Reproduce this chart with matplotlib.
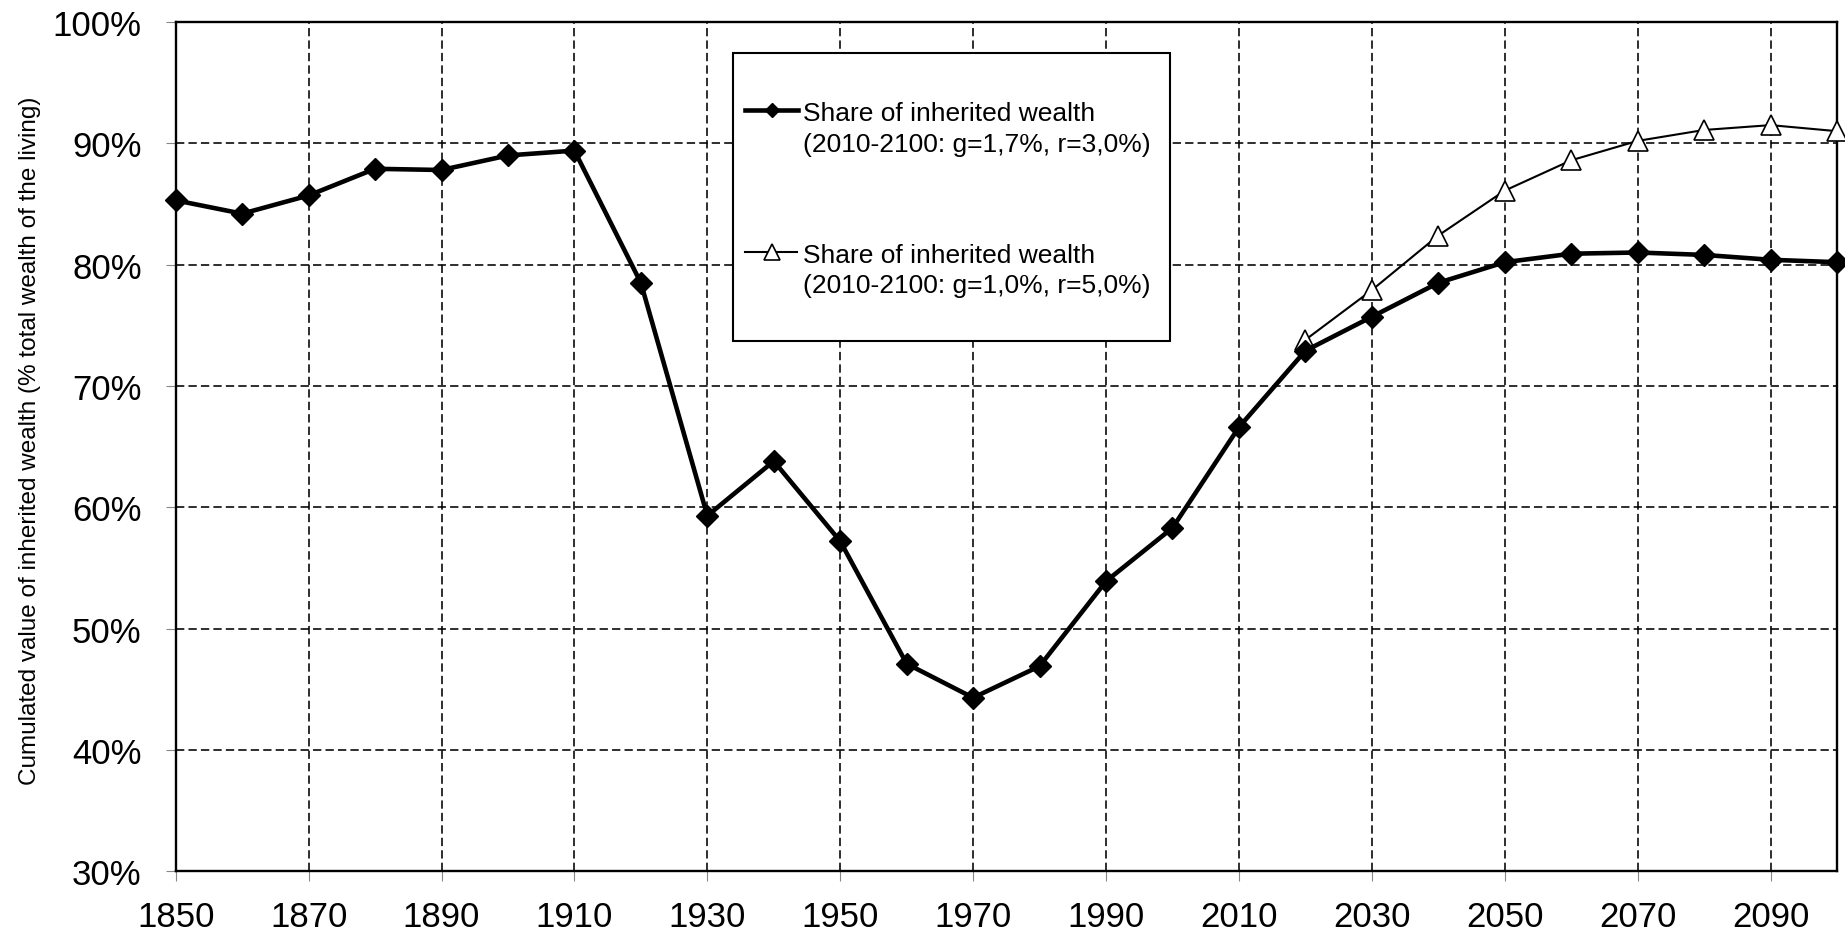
import matplotlib
matplotlib.use("Agg")
import matplotlib.pyplot as plt
from matplotlib.lines import Line2D
from matplotlib.patches import Rectangle
from matplotlib.ticker import FuncFormatter

# ---------------- data ----------------
years = [1850, 1860, 1870, 1880, 1890, 1900, 1910, 1920, 1930, 1940, 1950,
         1960, 1970, 1980, 1990, 2000, 2010, 2020, 2030, 2040, 2050, 2060,
         2070, 2080, 2090, 2100]
share_base = [85.3, 84.2, 85.7, 87.9, 87.8, 89.0, 89.4, 78.5, 59.3, 63.8, 57.2,
              47.1, 44.3, 46.9, 53.9, 58.3, 66.6, 72.9, 75.7, 78.5, 80.2, 80.9,
              81.0, 80.8, 80.4, 80.2]
years_alt = [2020, 2030, 2040, 2050, 2060, 2070, 2080, 2090, 2100]
share_alt = [73.8, 77.9, 82.4, 86.1, 88.6, 90.2, 91.1, 91.5, 91.0]

label_base = ["Share of inherited wealth", "(2010-2100: g=1,7%, r=3,0%)"]
label_alt = ["Share of inherited wealth", "(2010-2100: g=1,0%, r=5,0%)"]
ylabel = "Cumulated value of inherited wealth (% total wealth of the living)"
x_ticks = list(range(1850, 2100, 20))
y_ticks = list(range(30, 101, 10))

# ---------------- figure ----------------
W, H = 1845, 937
plt.rcParams['font.family'] = ['Liberation Sans', 'DejaVu Sans']
fig = plt.figure(figsize=(W / 100, H / 100), dpi=100)

def fx(px):
    return px / W

def fy(py):
    return 1 - py / H

ax_l, ax_r, ax_t, ax_b = 175.7, 1837.0, 23.0, 872.2
ax = fig.add_axes([fx(ax_l), fy(ax_b), fx(ax_r - ax_l), (ax_b - ax_t) / H])

ax.set_xlim(1850, 2100)
ax.set_ylim(30, 100)
ax.set_xticks(x_ticks)
ax.set_yticks(y_ticks)
ax.yaxis.set_major_formatter(FuncFormatter(lambda v, p: f"{v:.0f}%"))

dash = (0, (5.2, 2.6))
ax.grid(True, color='black', linestyle=dash, linewidth=1.15)
ax.set_axisbelow(True)

for s in ax.spines.values():
    s.set_color('black')
    s.set_linewidth(1.7)

ax.tick_params(axis='both', direction='out', length=7.5, width=0.8,
               color='#888888', labelsize=25)
ax.tick_params(axis='y', pad=17)
ax.tick_params(axis='x', pad=13)

ax.plot(years, share_base, color='black', linewidth=3.3, marker='D',
        markersize=11.5, markerfacecolor='black', markeredgecolor='black',
        markeredgewidth=1, zorder=4, clip_on=False)
ax.plot(years_alt, share_alt, color='black', linewidth=1.5, marker='^',
        markersize=14, markerfacecolor='white', markeredgecolor='black',
        markeredgewidth=1.2, zorder=3, clip_on=False)

ax.set_ylabel(ylabel, family=['Liberation Sans', 'DejaVu Sans'],
              fontsize=17.5)
ax.yaxis.set_label_coords((41 - ax_l) / (ax_r - ax_l),
                          (ax_b - 441) / (ax_b - ax_t))

# ---------------- legend (drawn manually) ----------------
lx0, ly0, lx1, ly1 = 733, 54, 1170, 342
fig.patches.append(Rectangle((fx(lx0), fy(ly1)), fx(lx1 - lx0), (ly1 - ly0) / H,
                             transform=fig.transFigure, facecolor='white',
                             edgecolor='black', linewidth=1.5, zorder=5))
fig.lines.append(Line2D([fx(745), fx(798)], [fy(111), fy(111)],
                        transform=fig.transFigure, color='black', linewidth=3.3,
                        zorder=6))
fig.lines.append(Line2D([fx(771.7)], [fy(111)], transform=fig.transFigure,
                        marker='D', markersize=7.5, color='black', zorder=6))
fig.lines.append(Line2D([fx(745), fx(797)], [fy(253.3), fy(253.3)],
                        transform=fig.transFigure, color='black', linewidth=1.5,
                        zorder=6))
fig.lines.append(Line2D([fx(771.7)], [fy(253.3)], transform=fig.transFigure,
                        marker='^', markersize=11.5, markerfacecolor='white',
                        markeredgecolor='black', markeredgewidth=1.2, zorder=6))

txt_kw = dict(fontsize=19, va='baseline', ha='left', zorder=7)
fig.text(fx(803), fy(121), label_base[0], **txt_kw)
fig.text(fx(803), fy(151.7), label_base[1], **txt_kw)
fig.text(fx(803), fy(262.7), label_alt[0], **txt_kw)
fig.text(fx(803), fy(293.3), label_alt[1], **txt_kw)

fig.savefig("out.png", dpi=100)
